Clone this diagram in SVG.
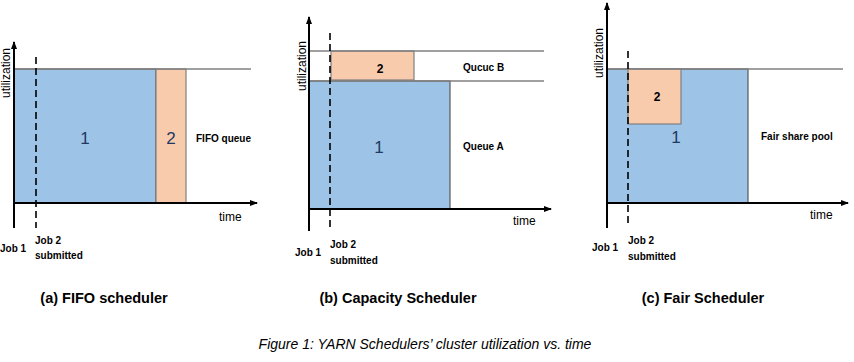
<svg xmlns="http://www.w3.org/2000/svg" width="854" height="362" viewBox="0 0 854 362">
<style>
text{font-family:"Liberation Sans",Arial,sans-serif;fill:#000}
.ax{stroke:#000;stroke-width:2;fill:none}
.cap{stroke:#808080;stroke-width:1.5;fill:none}
.dash{stroke:#000;stroke-width:1.6;stroke-dasharray:7,4;fill:none}
.blue{fill:#9DC3E6;stroke:#595959;stroke-width:1.2}
.org{fill:#F8CBAD;stroke:#7F7F7F;stroke-width:1.2}
.lab{font-size:10px;font-weight:bold}
.t{font-size:12px}
.num{font-size:17px;fill:#1F3864}
.bnum{font-size:12px;font-weight:bold}
.title{font-size:14.5px;font-weight:bold}
</style>
<defs>
<marker id="ah" markerWidth="8" markerHeight="8" refX="7" refY="4" orient="auto" markerUnits="userSpaceOnUse">
<path d="M0,1 L8,4 L0,7 Z" fill="#000"/>
</marker>
</defs>

<g id="panel-a">
<rect class="blue" x="14" y="69" width="142" height="134"/>
<rect class="org" x="156" y="69" width="30" height="134"/>
<line class="cap" x1="14" y1="69" x2="251" y2="69"/>
<text class="num" x="85" y="144" text-anchor="middle">1</text>
<text class="num" x="171" y="144" text-anchor="middle" fill="#1F3864">2</text>
<text class="lab" x="196" y="142">FIFO queue</text>
</g>

<g id="panel-b">
<rect class="blue" x="309" y="81" width="141" height="128"/>
<rect class="org" x="331" y="51" width="83" height="29"/>
<line class="cap" x1="309" y1="51" x2="544" y2="51"/>
<line class="cap" x1="309" y1="81" x2="544" y2="81"/>
<text class="bnum" x="380" y="73" text-anchor="middle">2</text>
<text class="num" x="379" y="153" text-anchor="middle">1</text>
<text class="lab" x="463" y="71">Qucuc B</text>
<text class="lab" x="463" y="150">Queue A</text>
</g>

<g id="panel-c">
<rect class="blue" x="607" y="69" width="141" height="134"/>
<rect class="org" x="628" y="69" width="53" height="55"/>
<line class="cap" x1="607" y1="69" x2="843" y2="69"/>
<text class="bnum" x="657" y="101" text-anchor="middle">2</text>
<text class="num" x="676" y="143" text-anchor="middle">1</text>
<text class="lab" x="761" y="140">Fair share pool</text>
</g>

<g id="connectors">
<line class="ax" x1="14" y1="228" x2="14" y2="42" marker-end="url(#ah)"/>
<line class="ax" x1="14" y1="203" x2="257" y2="203" marker-end="url(#ah)"/>
<line class="dash" x1="36" y1="57" x2="36" y2="228"/>
<line class="ax" x1="309" y1="231" x2="309" y2="17" marker-end="url(#ah)"/>
<line class="ax" x1="309" y1="209" x2="551" y2="209" marker-end="url(#ah)"/>
<line class="dash" x1="330" y1="33" x2="330" y2="231"/>
<line class="ax" x1="607" y1="228" x2="607" y2="3" marker-end="url(#ah)"/>
<line class="ax" x1="607" y1="203" x2="848" y2="203" marker-end="url(#ah)"/>
<line class="dash" x1="628" y1="51" x2="628" y2="223"/>
</g>

<g id="labels">
<text class="t" transform="translate(10,73) rotate(-90)" text-anchor="middle">utilization</text>
<text class="t" x="219" y="221">time</text>
<text class="lab" x="0" y="252">Job 1</text>
<text class="lab" x="35" y="244">Job 2</text>
<text class="lab" x="35" y="259">submitted</text>

<text class="t" transform="translate(306,66) rotate(-90)" text-anchor="middle">utilization</text>
<text class="t" x="513" y="225">time</text>
<text class="lab" x="295" y="256">Job 1</text>
<text class="lab" x="330" y="248">Job 2</text>
<text class="lab" x="330" y="264">submitted</text>

<text class="t" transform="translate(603,53) rotate(-90)" text-anchor="middle">utilization</text>
<text class="t" x="810" y="219">time</text>
<text class="lab" x="592" y="251">Job 1</text>
<text class="lab" x="628" y="244">Job 2</text>
<text class="lab" x="628" y="260">submitted</text>

<text class="title" x="104" y="303" text-anchor="middle">(a) FIFO scheduler</text>
<text class="title" x="398" y="303" text-anchor="middle">(b) Capacity Scheduler</text>
<text class="title" x="703" y="303" text-anchor="middle">(c) Fair Scheduler</text>
<text x="425" y="349" text-anchor="middle" font-size="14" font-style="italic">Figure 1: YARN Schedulers’ cluster utilization vs. time</text>
</g>
</svg>
